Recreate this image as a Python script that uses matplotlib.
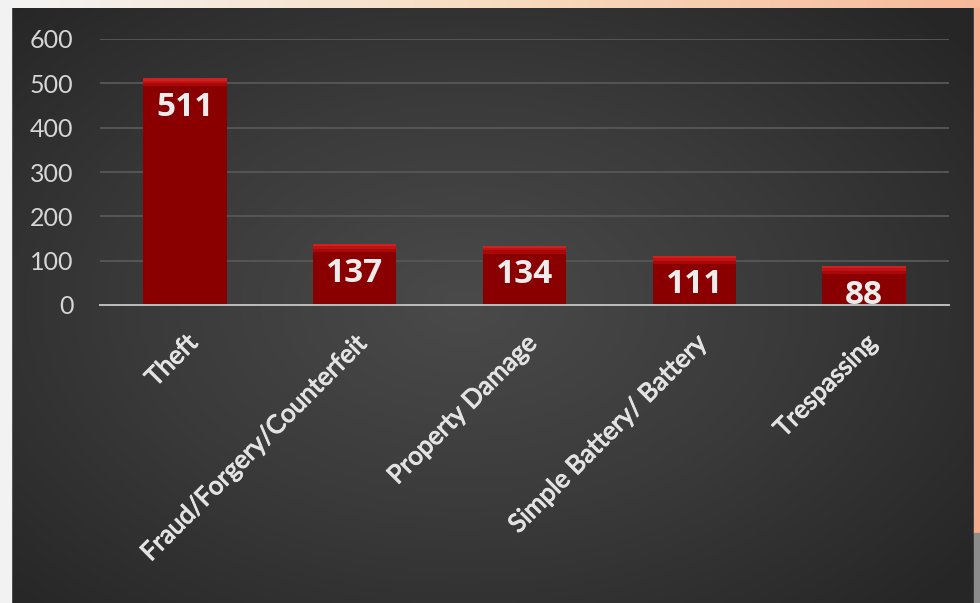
import matplotlib

matplotlib.use("Agg")
import matplotlib.pyplot as plt
import matplotlib.patheffects as pe
import numpy as np
from matplotlib.colors import LinearSegmentedColormap

categories = ["Theft", "Fraud/Forgery/Counterfeit", "Property Damage",
              "Simple Battery/ Battery", "Trespassing"]
counts = [511, 137, 134, 111, 88]
y_ticks = [0, 100, 200, 300, 400, 500, 600]

W, H = 980, 603
fig = plt.figure(figsize=(W / 100, H / 100), dpi=100)

# outer slide border (white on left, peach on top/right)
bg = fig.add_axes([0, 0, 1, 1])
bg.set_xlim(0, W)
bg.set_ylim(H, 0)
bg.axis("off")
top_cmap = LinearSegmentedColormap.from_list("top", ["#f4f4f4", "#f8dcc0", "#f7b99a"])
bg.imshow(np.linspace(0, 1, 256)[None, :], extent=[0, W, 8, 0], cmap=top_cmap, aspect="auto")
bg.fill_between([0, 11], 0, H, color="#f2f2f2")
bg.fill_between([974, W], 8, 533, color="#f7ab8e")
bg.fill_between([974, W], 533, H, color="#8c8c8c")

# dark panel with soft radial gradient
yy, xx = np.mgrid[0:1:300j, 0:1:480j]
r = np.sqrt(((xx - 0.47) / 0.75) ** 2 + ((yy - 0.5) / 0.8) ** 2)
panel_cmap = LinearSegmentedColormap.from_list("panel", ["#4a4a4a", "#3a3a3a", "#262626"])
bg.imshow(r, extent=[11, 974, H, 8], cmap=panel_cmap, aspect="auto", vmin=0, vmax=0.9)

ax = fig.add_axes([100 / W, 1 - 305 / H, 849 / W, 266 / H])
ax.patch.set_alpha(0)
x = np.arange(len(categories))
bw = 0.49
ax.bar(x, counts, width=bw, color="#8a0000", zorder=3)
# lighter bevel at the top of each bar
for depth, col in [(18, "#a80808"), (11, "#bf1212"), (5, "#d22020")]:
    ax.bar(x, [depth] * len(counts), bottom=[c - depth for c in counts], width=bw,
           color=col, zorder=4)
for xi, c in zip(x, counts):
    ax.annotate(str(c), (xi, c), xytext=(0, -21), textcoords="offset points",
                ha="center", va="center", fontsize=24, fontweight="bold",
                color="#ececec", family="Open Sans", zorder=5, annotation_clip=False,
                clip_on=True)

ax.set_xlim(-0.5, len(categories) - 0.5)
ax.set_ylim(0, 600)
ax.set_yticks(y_ticks)
ax.set_yticklabels([str(t) for t in y_ticks], fontsize=18, color="#d6d6d6", family="Lato")
ax.set_xticks(x)
ax.set_xticklabels(categories, rotation=45, ha="right", rotation_mode="anchor",
                   fontsize=18.5, color="#e2e2e2", family="Lato")
for lbl in ax.get_xticklabels():
    lbl.set_path_effects([pe.withStroke(linewidth=0.7, foreground="#e2e2e2")])
ax.tick_params(length=0, axis="y", pad=19)
ax.tick_params(length=0, axis="x", pad=18)
ax.grid(axis="y", color="#555555", linewidth=1.4, zorder=0)
for s in ["top", "right", "left"]:
    ax.spines[s].set_visible(False)
ax.spines["bottom"].set_color("#bdbdbd")
ax.spines["bottom"].set_linewidth(1.4)
ax.spines["bottom"].set_zorder(6)

fig.savefig("out.png", dpi=100)
